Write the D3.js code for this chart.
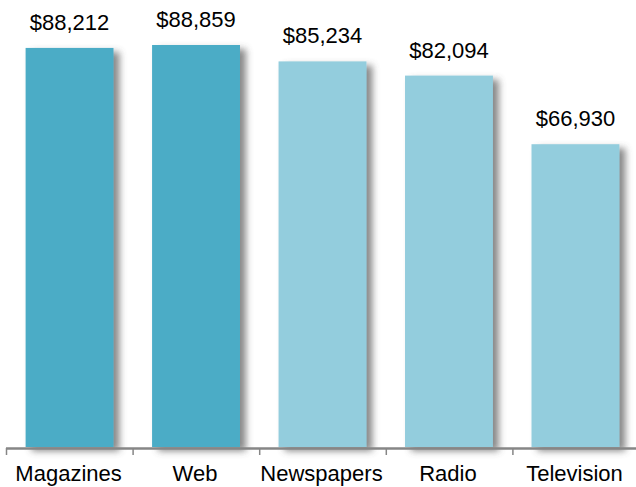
<!DOCTYPE html>
<html>
<head>
<meta charset="utf-8">
<script src="https://cdn.jsdelivr.net/npm/d3@7"></script>
<style>
  html, body { margin: 0; padding: 0; background: #fff; }
  svg { display: block; }
  text { font-family: "Liberation Sans", Arial, sans-serif; fill: #000; }
</style>
</head>
<body>
<svg id="chart" width="636" height="487"></svg>
<script>
// Average salary by media type
const categories = ["Magazines", "Web", "Newspapers", "Radio", "Television"];
const salaries = [88212, 88859, 85234, 82094, 66930];
const highlighted = [true, true, false, false, false];

const svg = d3.select("#chart");
const baseY = 447;

const x = d3.scaleBand()
  .domain(categories)
  .range([6, 639])
  .paddingInner(0.305)
  .paddingOuter(0.155);

const y = d3.scaleLinear()
  .domain([0, 100000])
  .range([baseY, baseY - 452.4]);

// soft drop shadow on the right side of each bar
const defs = svg.append("defs");
const f = defs.append("filter").attr("id", "shadow")
  .attr("x", "-10%").attr("y", "-10%").attr("width", "130%").attr("height", "120%");
f.append("feGaussianBlur").attr("in", "SourceAlpha").attr("stdDeviation", 3.5).attr("result", "blur");
f.append("feOffset").attr("in", "blur").attr("dx", 6).attr("dy", 4).attr("result", "off");
f.append("feComponentTransfer").attr("in", "off").attr("result", "shade")
  .append("feFuncA").attr("type", "linear").attr("slope", 0.7);
f.append("feFlood").attr("flood-color", "#555").attr("result", "col");
f.append("feComposite").attr("in", "col").attr("in2", "shade").attr("operator", "in").attr("result", "sh");
const m = f.append("feMerge");
m.append("feMergeNode").attr("in", "sh");
m.append("feMergeNode").attr("in", "SourceGraphic");

const data = categories.map((c, i) => ({ c, v: salaries[i], hi: highlighted[i] }));

svg.append("g").selectAll("rect")
  .data(data)
  .join("rect")
  .attr("x", d => x(d.c))
  .attr("y", d => y(d.v))
  .attr("width", x.bandwidth())
  .attr("height", d => baseY - y(d.v))
  .attr("fill", d => d.hi ? "#4BACC6" : "#93CDDD")
  .attr("filter", "url(#shadow)");

const fmt = d3.format("$,");
svg.append("g").selectAll("text")
  .data(data)
  .join("text")
  .attr("x", d => x(d.c) + x.bandwidth() / 2)
  .attr("y", d => y(d.v) - 18)
  .attr("text-anchor", "middle")
  .attr("font-size", "22px")
  .text(d => fmt(d.v));

// category axis
const axisScale = d3.scalePoint().domain(d3.range(6)).range([6, 639]);
const axis = svg.append("g");
axis.append("line")
  .attr("x1", 6).attr("x2", 639)
  .attr("y1", 448.5).attr("y2", 448.5)
  .attr("stroke", "#868686").attr("stroke-width", 2.5);
axis.selectAll("line.tick")
  .data(d3.range(6))
  .join("line")
  .attr("class", "tick")
  .attr("x1", d => axisScale(d) + 0.5).attr("x2", d => axisScale(d) + 0.5)
  .attr("y1", 448).attr("y2", 455)
  .attr("stroke", "#868686").attr("stroke-width", 1.5);

axis.selectAll("text")
  .data(categories)
  .join("text")
  .attr("x", d => x(d) + x.bandwidth() / 2 - 1)
  .attr("y", 481)
  .attr("text-anchor", "middle")
  .attr("font-size", "22px")
  .text(d => d);
</script>
</body>
</html>
